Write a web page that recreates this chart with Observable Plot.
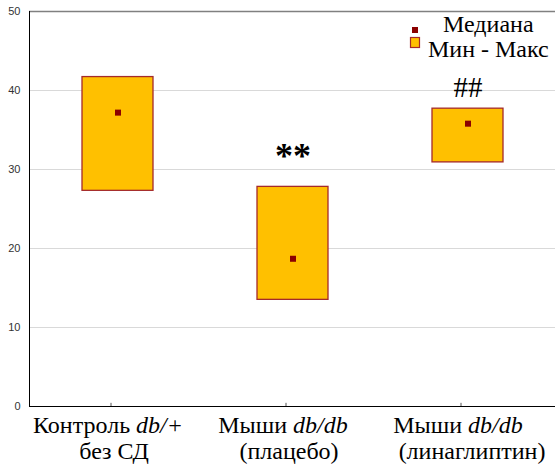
<!DOCTYPE html>
<html><head><meta charset="utf-8">
<script src="https://cdn.jsdelivr.net/npm/d3@7"></script>
<script src="https://cdn.jsdelivr.net/npm/@observablehq/plot@0.6"></script>
<style>body{margin:0;background:#fff}
.serif, .serif tspan{font-family:"Times New Roman", Times, "Liberation Serif", "DejaVu Serif", serif !important;}
</style></head>
<body><div id="chart"></div>
<script>
// Data
const labelPlain = ["Контроль ", "Мыши ", "Мыши "];
const labelItalic = ["db/+", "db/db", "db/db"];
const labelLine2 = ["без СД", "(плацебо)", "(линаглиптин)"];
const categories = labelPlain.map((p, i) => p + labelItalic[i] + "\n" + labelLine2[i]);
const minVals = [27.3, 13.5, 30.9];
const maxVals = [41.7, 27.8, 37.7];
const medians = [37.2, 18.7, 35.8];
const marks = ["", "**", "##"];
const markY = [null, 32.3, 40.4];
const yTicks = [0, 10, 20, 30, 40, 50];

const rows = categories.map((c, i) => ({cat: c, lo: minVals[i], hi: maxVals[i], med: medians[i], mark: marks[i], my: markY[i]}));

const plot = Plot.plot({
  width: 555, height: 468,
  marginTop: 11, marginBottom: 62, marginLeft: 29, marginRight: 0,
  style: {background: "#fff", overflow: "visible"},
  x: {domain: categories, padding: 0, label: null},
  y: {domain: [0, 50], label: null},
  marks: [
    Plot.gridY(yTicks.filter(d => d > 0 && d < 50), {stroke: "#d9d9d9", strokeOpacity: 1, strokeWidth: 1.2}),
    Plot.ruleY([50], {stroke: "#808080", strokeWidth: 1.5}),
    Plot.ruleY([0], {stroke: "#000", strokeWidth: 1}),
    Plot.axisY({ticks: yTicks, tickSize: 0, tickPadding: 9, fontSize: 11, fontFamily: "Liberation Sans, Arial, sans-serif", fill: "#333", label: null}),
    Plot.axisX({tickSize: 0, tickPadding: 9, fontSize: 24, label: null}),
    Plot.ruleX(categories, {x: d => d, dx: -7, y1: 0, y2: 0.4, stroke: "#555"}),
    Plot.barY(rows, {x: "cat", y1: "lo", y2: "hi", fill: "#FFC000", stroke: "#A52A2A", strokeWidth: 1.3, insetLeft: 52, insetRight: 52}),
    Plot.dot(rows, {x: "cat", y: "med", symbol: "square", r: 3.4, fill: "#8B0000", stroke: "none"}),
    Plot.text(rows.filter(d => d.mark === "**"), {x: "cat", y: "my", text: "mark", fontSize: 36, fontWeight: "bold", fill: "#000", dy: 5, className: "serif"}),
    Plot.text(rows.filter(d => d.mark === "##"), {x: "cat", y: "my", text: "mark", fontSize: 29, fill: "#000", dy: 0, className: "serif"})
  ]
});

// left axis line
const svg = d3.select(plot);
svg.append("line").attr("x1", 29.5).attr("x2", 29.5).attr("y1", 11).attr("y2", 406).attr("stroke", "#000");

// rebuild x tick labels with italic parts
svg.selectAll('g[aria-label="x-axis tick label"] text').each(function(d, i) {
  const t = d3.select(this);
  t.selectAll("*").remove();
  t.text(null);
  t.classed("serif", true).style("font-size", "24px").attr("fill", "#000");
  const l1 = t.append("tspan").attr("x", -10).attr("y", "0.71em");
  l1.append("tspan").text(labelPlain[i]);
  l1.append("tspan").style("font-style", "italic").text(labelItalic[i]);
  t.append("tspan").attr("x", i === 2 ? 4 : -4).attr("dy", "1.1em").text(labelLine2[i]);
});

// legend
const lg = svg.append("g").style("font-size", "24px").attr("text-anchor", "start");
lg.append("rect").attr("x", 412).attr("y", 27).attr("width", 6).attr("height", 6).attr("fill", "#8B0000");
lg.append("rect").attr("x", 410.5).attr("y", 37.5).attr("width", 9).attr("height", 10).attr("fill", "#FFC000").attr("stroke", "#A52A2A").attr("stroke-width", 1.2);
lg.append("text").attr("class", "serif").attr("x", 443).attr("y", 32).text("Медиана");
lg.append("text").attr("class", "serif").attr("x", 428).attr("y", 57).text("Мин - Макс");

document.getElementById("chart").appendChild(plot);
</script></body></html>
